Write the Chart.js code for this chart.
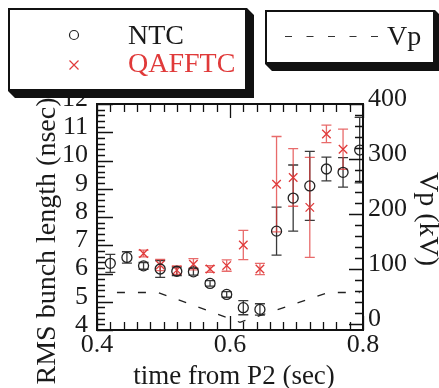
<!DOCTYPE html>
<html>
<head>
<meta charset="utf-8">
<script src="https://cdn.jsdelivr.net/npm/chart.js@4.4.3/dist/chart.umd.min.js"></script>
<style>
  html, body { margin: 0; padding: 0; background: #fff; }
  #wrap { position: relative; width: 439px; height: 388px; overflow: hidden; }
  #plot { position: absolute; left: 0; top: 0; }
  #legend { position: absolute; left: 0; top: 0; }
</style>
</head>
<body>
<div id="wrap">
  <canvas id="plot" width="439" height="388"></canvas>
  <svg id="legend" width="439" height="388" font-family="'Liberation Serif', 'Times New Roman', serif">
    <!-- series legend -->
    <polygon points="8,91 247,91 247,8 254,15 254,98 15,98" fill="#111"/>
    <rect x="9" y="9" width="237" height="81" fill="#fff" stroke="#111" stroke-width="2"/>
    <circle cx="74" cy="35" r="4.5" fill="none" stroke="#222" stroke-width="1.2"/>
    <text x="128" y="43.5" font-size="28" fill="#1a1a1a">NTC</text>
    <path d="M69.5 60.5 L78.5 69.5 M78.5 60.5 L69.5 69.5" stroke="#e03a3a" stroke-width="1.2"/>
    <text x="128" y="72" font-size="28" fill="#e03a3a">QAFFTC</text>
    <!-- Vp legend -->
    <polygon points="265,64 435,64 435,10 442,17 442,71 272,71" fill="#111"/>
    <rect x="266" y="11" width="168" height="52" fill="#fff" stroke="#111" stroke-width="2"/>
    <line x1="285" y1="36.5" x2="378" y2="36.5" stroke="#333" stroke-width="1.2" stroke-dasharray="7 14.5"/>
    <text x="387" y="45" font-size="28" fill="#1a1a1a">Vp</text>
  </svg>
</div>
<script>
(function () {
	'use strict';

	// NTC (circles), rms bunch length in nsec
	var ntcTime   = [0.42, 0.445, 0.47, 0.495, 0.52, 0.545, 0.57, 0.595, 0.62, 0.645, 0.67, 0.695, 0.72, 0.745, 0.77, 0.795];
	var ntcLength = [6.36, 6.57, 6.27, 6.16, 6.08, 6.06, 5.65, 5.26, 4.79, 4.73, 7.50, 8.67, 9.10, 9.70, 9.58, 10.37];
	var ntcError  = [0.32, 0.20, 0.12, 0.30, 0.15, 0.12, 0.10, 0.10, 0.25, 0.20, 0.85, 1.17, 1.22, 0.42, 0.52, 1.16];

	// QAFFTC (crosses)
	var qafTime   = [0.47, 0.495, 0.52, 0.545, 0.57, 0.595, 0.62, 0.645, 0.67, 0.695, 0.72, 0.745, 0.77];
	var qafLength = [6.71, 6.30, 6.12, 6.33, 6.16, 6.28, 7.01, 6.16, 9.16, 9.40, 8.34, 10.94, 10.40];
	var qafError  = [0.12, 0.20, 0.15, 0.20, 0.12, 0.20, 0.52, 0.20, 1.69, 1.02, 1.77, 0.31, 0.71];

	// Vp program (kV), right axis
	var vpTime  = [0.43, 0.492, 0.615, 0.748, 0.795];
	var vpVolts = [58, 58, 4, 58, 58];

	var xTicks     = [0.4, 0.6, 0.8];
	var leftTicks  = [4, 5, 6, 7, 8, 9, 10, 11, 12];
	var rightTicks = [0, 100, 200, 300, 400];

	var SERIF = "'Liberation Serif', 'Times New Roman', serif";
	var RED = '#e03a3a';

	function pts(xs, ys) {
		return xs.map(function (x, i) { return { x: x, y: ys[i] }; });
	}

	function setTicks(list) {
		return function (scale) {
			scale.ticks = list.map(function (v) { return { value: v }; });
		};
	}

	// =========================================================
	// Error bars
	// =========================================================
	var errorBars = {
		id: 'errorBars',
		beforeDatasetsDraw: function (chart) {
			var ctx = chart.ctx, a = chart.chartArea;
			var xs = chart.scales.x, ys = chart.scales.y;
			ctx.save();
			ctx.beginPath();
			ctx.rect(a.left, a.top, a.right - a.left, a.bottom - a.top);
			ctx.clip();
			chart.data.datasets.forEach(function (ds) {
				if (!ds.errors) return;
				ctx.strokeStyle = ds.errorColor;
				ctx.lineWidth = 1.3;
				ds.data.forEach(function (p, i) {
					var px = xs.getPixelForValue(p.x);
					var top = ys.getPixelForValue(p.y + ds.errors[i]);
					var bot = ys.getPixelForValue(p.y - ds.errors[i]);
					ctx.beginPath();
					ctx.moveTo(px, top); ctx.lineTo(px, bot);
					ctx.moveTo(px - 5, top); ctx.lineTo(px + 5, top);
					ctx.moveTo(px - 5, bot); ctx.lineTo(px + 5, bot);
					ctx.stroke();
				});
			});
			ctx.restore();
		}
	};

	// =========================================================
	// Frame, inward ticks and axis titles
	// =========================================================
	var frame = {
		id: 'frame',
		afterDraw: function (chart) {
			var ctx = chart.ctx, a = chart.chartArea;
			var xs = chart.scales.x, ys = chart.scales.y, y2 = chart.scales.y2;
			var k, p, len;
			ctx.save();
			ctx.strokeStyle = '#111';
			ctx.lineWidth = 1.3;
			ctx.beginPath();
			for (k = 0; k <= 20; k++) {
				p = Math.round(xs.getPixelForValue(0.4 + k * 0.02)) + 0.5;
				len = (k % 10 === 0) ? 14 : 8;
				ctx.moveTo(p, a.bottom); ctx.lineTo(p, a.bottom - len);
				ctx.moveTo(p, a.top); ctx.lineTo(p, a.top + len);
			}
			for (k = 0; k <= 40; k++) {
				p = Math.round(ys.getPixelForValue(4 + k * 0.2)) + 0.5;
				len = (k % 5 === 0) ? 16 : 8;
				ctx.moveTo(a.left, p); ctx.lineTo(a.left + len, p);
			}
			for (k = 0; k <= 20; k++) {
				p = Math.round(y2.getPixelForValue(k * 20)) + 0.5;
				len = (k % 5 === 0) ? 14 : 8;
				ctx.moveTo(a.right, p); ctx.lineTo(a.right - len, p);
			}
			ctx.stroke();

			ctx.lineWidth = 2;
			ctx.strokeRect(a.left, a.top, a.right - a.left, a.bottom - a.top);

			// Axis titles.
			ctx.fillStyle = '#1a1a1a';
			ctx.font = '28px ' + SERIF;
			ctx.textAlign = 'center';
			ctx.textBaseline = 'alphabetic';

			ctx.save();
			ctx.translate(55, 241);
			ctx.rotate(-Math.PI / 2);
			ctx.fillText('RMS bunch length (nsec)', 0, 0);
			ctx.restore();

			ctx.save();
			ctx.translate(420, 219);
			ctx.rotate(Math.PI / 2);
			ctx.fillText('Vp (kV)', 0, 0);
			ctx.restore();

			ctx.font = '27px ' + SERIF;
			ctx.fillText('time from P2 (sec)', 234, 384);
			ctx.restore();
		}
	};

	var tickFont = { family: SERIF, size: 26 };

	new Chart(document.getElementById('plot'), {
		type: 'scatter',
		data: {
			datasets: [
				{
					label: 'NTC',
					data: pts(ntcTime, ntcLength),
					errors: ntcError,
					errorColor: '#3a3a3a',
					yAxisID: 'y',
					pointStyle: 'circle',
					pointRadius: 5,
					pointBorderWidth: 1.3,
					borderColor: '#222',
					backgroundColor: 'rgba(0,0,0,0)',
					showLine: false
				},
				{
					label: 'QAFFTC',
					data: pts(qafTime, qafLength),
					errors: qafError,
					errorColor: 'rgba(224,58,58,0.75)',
					yAxisID: 'y',
					pointStyle: 'crossRot',
					pointRadius: 6,
					pointBorderWidth: 1.3,
					borderColor: RED,
					backgroundColor: RED,
					showLine: false
				},
				{
					label: 'Vp',
					type: 'line',
					data: pts(vpTime, vpVolts),
					yAxisID: 'y2',
					borderColor: '#222',
					borderWidth: 1.3,
					borderDash: [8, 13],
					pointRadius: 0,
					fill: false,
					tension: 0
				}
			]
		},
		options: {
			responsive: false,
			devicePixelRatio: 1,
			animation: false,
			layout: { padding: { top: 104, left: 0, right: 0, bottom: 0 } },
			plugins: {
				legend: { display: false },
				tooltip: { enabled: false }
			},
			scales: {
				x: {
					type: 'linear',
					min: 0.4,
					max: 0.8,
					afterBuildTicks: setTicks(xTicks),
					afterFit: function (s) { s.height = 58; },
					grid: { display: false, drawTicks: false },
					border: { display: false },
					ticks: {
						font: tickFont,
						color: '#1a1a1a',
						padding: 0,
						maxRotation: 0,
						autoSkip: false,
						callback: function (v) { return v.toFixed(1); }
					}
				},
				y: {
					type: 'linear',
					position: 'left',
					min: 4,
					max: 12,
					afterBuildTicks: setTicks(leftTicks),
					afterFit: function (s) { s.width = 97; },
					grid: { display: false, drawTicks: false },
					border: { display: false },
					ticks: { font: tickFont, color: '#1a1a1a', padding: 9, labelOffset: -5, autoSkip: false }
				},
				y2: {
					type: 'linear',
					position: 'right',
					min: -10,
					max: 400,
					afterBuildTicks: setTicks(rightTicks),
					afterFit: function (s) { s.width = 76; },
					grid: { display: false, drawTicks: false },
					border: { display: false },
					ticks: { font: tickFont, color: '#1a1a1a', padding: 5, labelOffset: -5, autoSkip: false }
				}
			}
		},
		plugins: [errorBars, frame]
	});
})();
</script>
</body>
</html>
